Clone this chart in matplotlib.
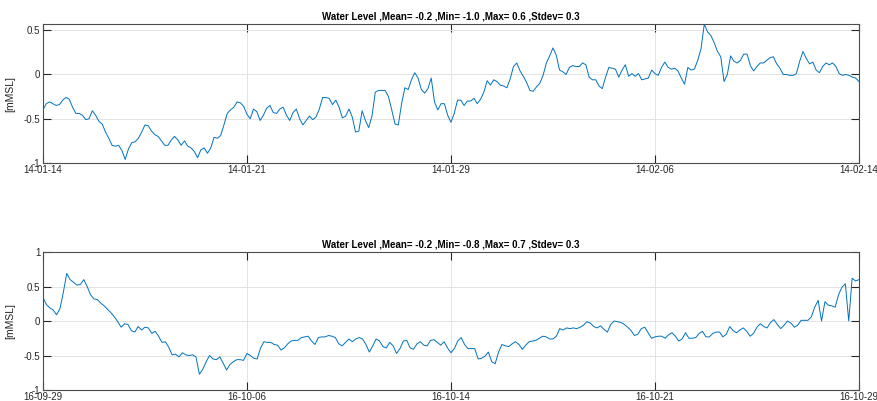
import numpy as np
import pandas as pd
import matplotlib
matplotlib.use('Agg')
import matplotlib.pyplot as plt
import matplotlib.dates as mdates
from matplotlib.ticker import FuncFormatter

# 3-hourly water level, Jan-Feb 2014
level_2014 = [
    -0.40, -0.33, -0.31, -0.33, -0.35, -0.34, -0.29, -0.26, -0.28, -0.37,
    -0.44, -0.44, -0.46, -0.51, -0.50, -0.41, -0.46, -0.53, -0.56, -0.65,
    -0.72, -0.80, -0.81, -0.80, -0.86, -0.96, -0.84, -0.77, -0.76, -0.72,
    -0.65, -0.57, -0.58, -0.64, -0.68, -0.70, -0.75, -0.80, -0.80, -0.74,
    -0.70, -0.74, -0.80, -0.75, -0.81, -0.83, -0.87, -0.94, -0.85, -0.83,
    -0.89, -0.83, -0.71, -0.72, -0.69, -0.57, -0.44, -0.40, -0.37, -0.31,
    -0.32, -0.36, -0.45,
    -0.50, -0.39, -0.42, -0.52, -0.46, -0.38, -0.35, -0.43, -0.44, -0.39,
    -0.37, -0.46, -0.52, -0.43, -0.39, -0.50, -0.57, -0.52, -0.47, -0.51,
    -0.48, -0.39, -0.26, -0.26, -0.27, -0.34, -0.29, -0.37, -0.49, -0.47,
    -0.39, -0.48, -0.65, -0.64, -0.41, -0.52, -0.60, -0.47, -0.20, -0.18,
    -0.18, -0.18, -0.25, -0.40, -0.56, -0.57, -0.33, -0.15, -0.17, -0.06,
    0.02, -0.04, -0.17, -0.21, -0.16, -0.04, -0.31, -0.40, -0.33, -0.33,
    -0.46, -0.54,
    -0.44, -0.29, -0.29, -0.35, -0.30, -0.30, -0.27, -0.33, -0.28, -0.20,
    -0.07, -0.12, -0.06, -0.08, -0.12, -0.13, -0.15, -0.05, 0.09, 0.13,
    0.04, -0.02, -0.09, -0.18, -0.19, -0.14, -0.10, -0.01, 0.13, 0.21,
    0.30, 0.22, 0.05, 0.03, 0.00, 0.08, 0.10, 0.09, 0.09, 0.13,
    0.11, -0.03, -0.06, -0.06, -0.13, -0.16, -0.03, 0.08, 0.07, 0.06,
    -0.03, 0.05, 0.11, -0.02, 0.01, -0.02, 0.01, -0.06, -0.05, -0.04,
    0.05, 0.01,
    -0.01, 0.08, 0.14, 0.08, 0.06, 0.07, 0.04, -0.04, -0.11, 0.08,
    0.05, 0.06, 0.16, 0.29, 0.57, 0.48, 0.44, 0.36, 0.26, 0.20,
    -0.08, 0.00, 0.21, 0.15, 0.13, 0.16, 0.23, 0.23, 0.10, 0.04,
    0.09, 0.13, 0.13, 0.16, 0.19, 0.20, 0.12, 0.07, 0.00, 0.00,
    -0.01, -0.01, 0.01, 0.15, 0.26, 0.18, 0.12, 0.14, 0.05, 0.02,
    0.09, 0.13, 0.11, 0.13, 0.09, 0.01, -0.01, 0.00, -0.01, -0.03,
    -0.04, -0.08,
]

# 3-hourly water level, Sep-Oct 2016
level_2016 = [
    0.34, 0.24, 0.19, 0.16, 0.09, 0.18, 0.42, 0.69, 0.60, 0.56,
    0.52, 0.53, 0.60, 0.50, 0.38, 0.32, 0.31, 0.26, 0.22, 0.17,
    0.12, 0.06, -0.01, -0.09, -0.04, -0.05, -0.14, -0.16, -0.08, -0.13,
    -0.09, -0.10, -0.18, -0.15, -0.22, -0.31, -0.30, -0.38, -0.49, -0.48,
    -0.52, -0.46, -0.49, -0.50, -0.49, -0.52, -0.77, -0.70, -0.59, -0.50,
    -0.55, -0.56, -0.52, -0.61, -0.71, -0.63, -0.59, -0.56, -0.56, -0.57,
    -0.47,
    -0.50, -0.54, -0.55, -0.39, -0.30, -0.31, -0.31, -0.34, -0.35, -0.42,
    -0.39, -0.33, -0.29, -0.28, -0.28, -0.24, -0.23, -0.22, -0.29, -0.34,
    -0.24, -0.23, -0.23, -0.21, -0.22, -0.24, -0.33, -0.36, -0.31, -0.26,
    -0.30, -0.26, -0.24, -0.26, -0.34, -0.45, -0.36, -0.26, -0.29, -0.37,
    -0.39, -0.31, -0.36, -0.47, -0.40, -0.29, -0.28, -0.39, -0.41, -0.33,
    -0.30, -0.35, -0.36, -0.28, -0.27, -0.31, -0.35, -0.30, -0.39, -0.46,
    -0.40, -0.29, -0.24, -0.34, -0.40, -0.40, -0.40, -0.55, -0.54, -0.51,
    -0.45, -0.59, -0.62, -0.45, -0.34, -0.36, -0.37, -0.33, -0.30, -0.34,
    -0.41, -0.35, -0.30, -0.29, -0.28, -0.25, -0.22, -0.23, -0.26, -0.26,
    -0.22, -0.11, -0.13, -0.10, -0.11, -0.10, -0.11, -0.09, -0.06, -0.01,
    -0.03, -0.08, -0.10, -0.07, -0.12, -0.16, -0.05, 0.00, -0.01, -0.02,
    -0.05, -0.09, -0.14, -0.21, -0.19, -0.11, -0.09, -0.17, -0.25, -0.23,
    -0.22, -0.22, -0.25, -0.20, -0.17, -0.22, -0.29, -0.26, -0.17, -0.25,
    -0.25, -0.24, -0.18, -0.15, -0.23, -0.23, -0.18, -0.16, -0.16, -0.23,
    -0.19, -0.08, -0.14, -0.17, -0.13, -0.10, -0.15, -0.22, -0.18, -0.09,
    -0.04, -0.08, -0.10, -0.02, 0.02, -0.05, -0.11, -0.06, 0.00, -0.03,
    -0.09, -0.06, 0.01, 0.01, 0.01, 0.06, 0.20, 0.30, 0.00, 0.28,
    0.23, 0.22, 0.20, 0.38, 0.49, 0.54, 0.00, 0.62, 0.58, 0.60,
]

title_2014 = 'Water Level ,Mean= -0.2 ,Min= -1.0 ,Max= 0.6 ,Stdev= 0.3'
title_2016 = 'Water Level ,Mean= -0.2 ,Min= -0.8 ,Max= 0.7 ,Stdev= 0.3'

t_2014 = pd.date_range('2014-01-14', periods=len(level_2014), freq='3h')
t_2016 = pd.date_range('2016-09-29', periods=len(level_2016), freq='3h')

plt.rcParams['font.family'] = ['Liberation Sans', 'DejaVu Sans']
plt.rcParams['axes.unicode_minus'] = False

fig = plt.figure(figsize=(8.77, 4.01), dpi=100)
ax1 = fig.add_axes([0.049, 0.5935, 0.9304, 0.3466])
ax2 = fig.add_axes([0.049, 0.0274, 0.9304, 0.3441])

panels = [
    (ax1, t_2014, level_2014, (-1, 0.57), [0.5, 0, -0.5, -1], title_2014),
    (ax2, t_2016, level_2016, (-1, 1), [1, 0.5, 0, -0.5, -1], title_2016),
]

for ax, t, y, ylim, yticks, title in panels:
    ax.plot(t, y, color='#0072BD', linewidth=0.7)
    ax.set_xlim(t[0], t[-1])
    ax.set_ylim(*ylim)
    ax.set_yticks(yticks)
    ax.yaxis.set_major_formatter(FuncFormatter(lambda v, p: '%g' % v))
    ax.set_xticks(pd.date_range(t[0], t[-1], periods=5))
    ax.xaxis.set_major_formatter(mdates.DateFormatter('%y-%m-%d'))
    ax.grid(True, color='#e3e3e3', linewidth=0.7)
    ax.set_axisbelow(True)
    ax.tick_params(direction='in', length=6, width=0.8, colors='#262626',
                   labelsize=7, top=True, right=True, pad=2)
    ax.tick_params(axis='x', pad=1.5)
    for s in ax.spines.values():
        s.set_color('#4d4d4d')
        s.set_linewidth(0.8)
    ax.set_ylabel('[mMSL]', fontsize=7.5, color='#262626', labelpad=6)
    ax.set_title(title, fontsize=7, fontweight='bold', pad=3)

fig.savefig('out.png', dpi=100)
